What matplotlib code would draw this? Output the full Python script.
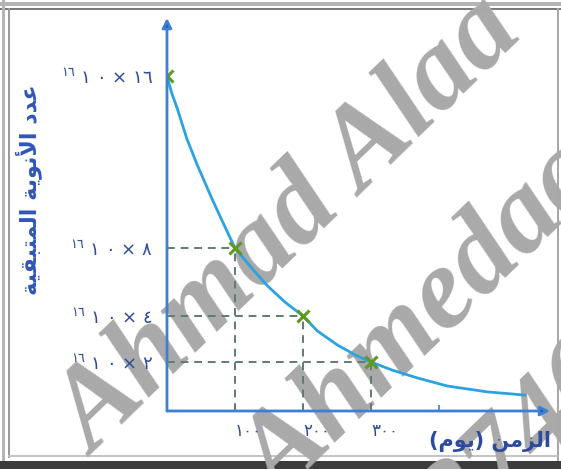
import numpy as np
import matplotlib
matplotlib.use("Agg")
import matplotlib.pyplot as plt
from matplotlib.patches import Rectangle
from matplotlib.scale import FuncScale

# marked points (time in days, remaining nuclei in units of 10^16)
t_points = [0, 100, 200, 300]
n_points = [16, 8, 4, 2]

# decay curve
t_curve = [0, 7, 15, 29, 44, 66, 82, 100, 125, 147, 174, 200,
           221, 250, 277, 300, 331, 368, 412, 471, 526]
n_curve = [16, 15.2, 14.5, 13.1, 11.9, 10.3, 9.2, 8, 6.8, 5.8, 4.8, 4,
           3.35, 2.75, 2.3, 2, 1.67, 1.35, 1.02, 0.78, 0.65]

x_ticks = [100, 200, 300, 400]
x_ticklabels = ["١٠٠", "٢٠٠", "٣٠٠", ""]
y_ticks = [16, 8, 4, 2]
y_ticklabels = ["$^{١٦}$ ١ ٠ × ١٦", "$^{١٦}$ ١ ٠ × ٨",
                "$^{١٦}$ ١ ٠ × ٤", "$^{١٦}$ ١ ٠ × ٢"]

# Arabic titles, already shaped (presentation forms) and in visual order
y_title = ("\uFE94\uFEF4\uFED8\uFE92\uFE98\uFEE4\uFEDF\uFE8D "
           "\uFE94\uFEF3\uFEEE\uFEE7\uFEF7\uFE8D "
           "\uFEA9\uFEAA\uFECB")
x_title = "(\uFEE1\uFEEE\uFEF3) \uFEE6\uFEE3\uFEB0\uFEDF\uFE8D"

# the drawing is schematic: the value axis is not evenly spaced
axis_vals = [0, 2, 4, 8, 16, 32]
axis_pos = [0, 49, 95, 163, 335, 679]


def fwd(v):
    return np.interp(v, axis_vals, axis_pos)


def inv(p):
    return np.interp(p, axis_pos, axis_vals)


W, H = 561, 469
fig = plt.figure(figsize=(W / 100, H / 100), dpi=100)
fig.patch.set_facecolor("white")

ax = fig.add_axes([167 / W, (H - 411) / H, (550 - 167) / W, (411 - 18) / H])
ax.set_facecolor("none")
ax.set_zorder(1)
ax.set_yscale(FuncScale(ax.yaxis, (fwd, inv)))
ax.set_xlim(0, 563)
ax.set_ylim(0, 18.7)

axis_blue = "#3b7fd6"
label_navy = "#2d4b9c"
guide = "#5d7d70"

for t, n in zip(t_points[1:], n_points[1:]):
    ax.plot([0, t], [n, n], ls=(0, (4, 3)), color=guide, lw=1.4, zorder=2)
    ax.plot([t, t], [0, n], ls=(0, (4, 3)), color=guide, lw=1.4, zorder=2)

ax.plot(t_curve, n_curve, color="#2aa3e0", lw=2.0, zorder=3)
ax.plot(t_points, n_points, ls="none", marker="x", ms=8, mew=2.2,
        color="#5e9a22", zorder=4)

for s in ax.spines.values():
    s.set_visible(False)

for end in [(0, 1), (1, 0)]:
    ax.annotate("", xy=end, xytext=(0, 0), xycoords="axes fraction",
                arrowprops=dict(arrowstyle="-|>", color=axis_blue, fc="#2e4fa3",
                                lw=2, mutation_scale=14, shrinkA=0, shrinkB=0),
                zorder=5)

ax.set_xticks(x_ticks)
ax.set_xticklabels(x_ticklabels, ha="left", color=label_navy, fontsize=12)
ax.tick_params(axis="x", direction="in", length=4, width=1.2,
               color=axis_blue, pad=8)
ax.set_yticks(y_ticks)
ax.set_yticklabels(y_ticklabels, color=label_navy, fontsize=13)
ax.tick_params(axis="y", length=0, pad=10)
ax.minorticks_off()

fig.text(490 / W, 1 - 441 / H, x_title, ha="center", va="center",
         fontsize=15, fontweight="bold", color=label_navy, zorder=3)
fig.text(29 / W, 1 - 190 / H, y_title, ha="center", va="center",
         rotation=90, fontsize=16, fontweight="bold", color="#2f56b8", zorder=3)


# picture frame
def band(x0, y0, x1, y1, c):
    fig.add_artist(Rectangle((x0 / W, 1 - y1 / H), (x1 - x0) / W, (y1 - y0) / H,
                             transform=fig.transFigure, color=c, lw=0, zorder=-2))


band(0, 2, W, 6, "#b4b4b4")
band(0, 8, W, 10, "#7a7a7a")
band(2, 0, 5, H, "#b4b4b4")
band(8, 8, 10, 458, "#9a9a9a")
band(557, 8, 559, H, "#a8a8a8")
band(8, 455, 558, 457, "#c4c4c4")
band(0, 461, W, H, "#3c3c3c")

# watermark, under the chart but over the frame
wm = dict(color="#a9a9a9", family="Liberation Serif", fontweight="bold",
          style="italic", ha="center", va="center", rotation=44,
          fontsize=84, zorder=-1)
fig.text(290 / W, 1 - 228 / H, "Ahmad Alaa", **wm)
fig.text(425 / W, 1 - 322 / H, "Ahmedaa", **wm)
fig.text(545 / W, 1 - 425 / H, "27462", **wm)

fig.savefig("out.png", dpi=100, facecolor="white")
